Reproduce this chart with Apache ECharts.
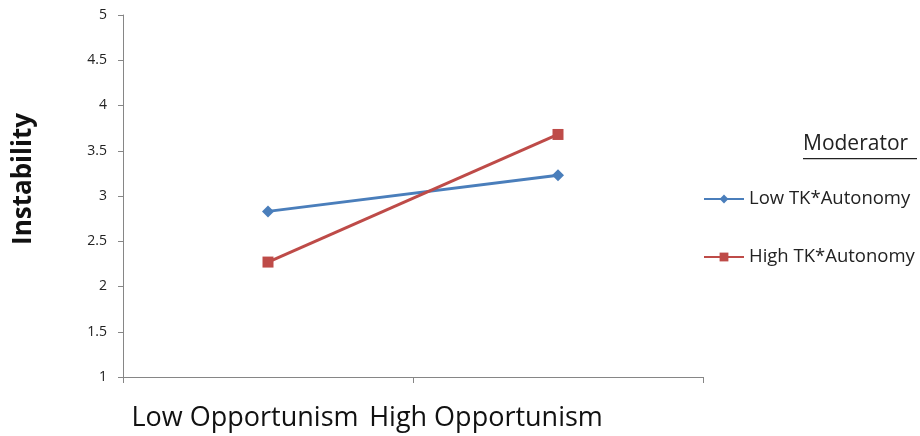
<!DOCTYPE html>
<html>
<head>
<meta charset="utf-8">
<script src="https://cdn.jsdelivr.net/npm/echarts@6/dist/echarts.min.js"></script>
<style>
  html, body { margin: 0; padding: 0; background: #fff; }
  #chart { width: 920px; height: 436px; }
</style>
</head>
<body>
<div id="chart"></div>
<script>
  // data
  const categories = ['Low Opportunism', 'High Opportunism'];
  const lowTK = [2.83, 3.23];
  const highTK = [2.27, 3.68];
  const seriesNames = ['Low TK*Autonomy', 'High TK*Autonomy'];

  const chart = echarts.init(document.getElementById('chart'));
  const axisGrey = '#868686';

  // the category labels in the original sit left of their category centres
  const labelShift = [46, 144];
  const catData = categories.map((c, i) => ({
    value: c,
    textStyle: { padding: [0, labelShift[i], 0, 0] }
  }));

  const option = {
    animation: false,
    textStyle: { fontFamily: 'Open Sans' },
    grid: { left: 123, right: 217, top: 15, bottom: 59, containLabel: false },
    legend: {
      orient: 'vertical',
      left: 698,
      top: 184,
      itemGap: 38,
      itemWidth: 40,
      itemHeight: 11,
      textStyle: { fontSize: 18.5, lineHeight: 20, color: '#222', fontFamily: 'Open Sans' },
      data: seriesNames
    },
    graphic: [
      {
        type: 'text',
        left: 803,
        top: 134,
        style: { text: 'Moderator', fontSize: 21, fill: '#222', fontFamily: 'Open Sans' }
      },
      {
        type: 'rect',
        shape: { x: 803, y: 158, width: 114, height: 1.3 },
        style: { fill: '#222' }
      }
    ],
    xAxis: {
      type: 'category',
      data: catData,
      boundaryGap: true,
      axisLine: { lineStyle: { color: axisGrey, width: 1 } },
      axisTick: { show: true, interval: 0, length: 6, lineStyle: { color: axisGrey } },
      axisLabel: { interval: 0, hideOverlap: false, fontSize: 27, color: '#111', margin: 28, fontFamily: 'Open Sans' },
      splitLine: { show: false }
    },
    yAxis: {
      type: 'value',
      min: 1,
      max: 5,
      interval: 0.5,
      name: 'Instability',
      nameLocation: 'middle',
      nameGap: 86,
      nameTextStyle: { fontSize: 26, fontWeight: 'bold', color: '#111', fontFamily: 'Open Sans', padding: [0, 0, 0, 34] },
      axisLine: { show: true, lineStyle: { color: axisGrey, width: 1 } },
      axisTick: { show: true, length: 5, lineStyle: { color: axisGrey } },
      axisLabel: { fontSize: 14, color: '#222', margin: 16 },
      splitLine: { show: false }
    },
    series: [
      {
        name: seriesNames[0],
        type: 'line',
        data: lowTK,
        symbol: 'diamond',
        symbolSize: 12,
        lineStyle: { color: '#4A7EBB', width: 3 },
        itemStyle: { color: '#4A7EBB' }
      },
      {
        name: seriesNames[1],
        type: 'line',
        data: highTK,
        symbol: 'rect',
        symbolSize: 11,
        lineStyle: { color: '#BE4B48', width: 3 },
        itemStyle: { color: '#BE4B48' }
      }
    ]
  };

  chart.setOption(option);
</script>
</body>
</html>
